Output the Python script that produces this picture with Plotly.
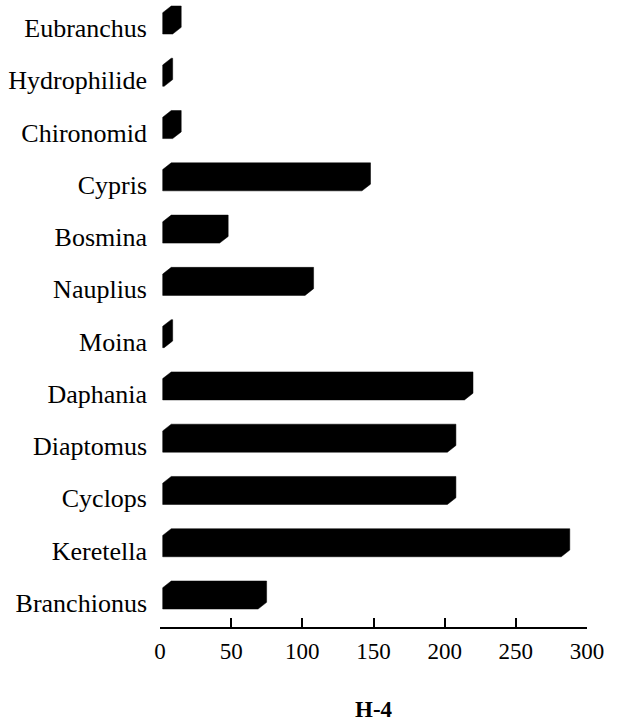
import plotly.graph_objects as go

# Data (bottom to top as drawn)
categories = ["Branchionus", "Keretella", "Cyclops", "Diaptomus", "Daphania", "Moina",
              "Nauplius", "Bosmina", "Cypris", "Chironomid", "Hydrophilide", "Eubranchus"]
values = [67, 280, 200, 200, 212, 1, 100, 40, 140, 7, 1, 7]
x_ticks = [0, 50, 100, 150, 200, 250, 300]
title_text = "H-4"

# 3D bar style constants (data units)
X0 = 1.9      # small gap from axis
DX = 6.0      # depth offset in x
DY = 0.128    # depth offset in y
HALF = 0.204  # half height of front face
YSHIFT = -0.064

xs, ys = [], []
for k, v in enumerate(values):
    yc = k + YSHIFT
    x1 = X0 + v
    pts = [(X0, yc - HALF), (X0, yc + HALF), (X0 + DX, yc + HALF + DY),
           (x1 + DX, yc + HALF + DY), (x1 + DX, yc - HALF + DY), (x1, yc - HALF),
           (X0, yc - HALF)]
    xs += [p[0] for p in pts] + [None]
    ys += [p[1] for p in pts] + [None]

fig = go.Figure()
fig.add_trace(go.Scatter(x=xs, y=ys, mode="lines", fill="toself",
                         fillcolor="black", line=dict(color="black", width=0.5),
                         hoverinfo="skip", showlegend=False, cliponaxis=False))

font_family = "Liberation Serif, Times New Roman, serif"
fig.update_layout(
    width=617, height=724,
    margin=dict(l=160, r=30, t=0, b=97),
    paper_bgcolor="white", plot_bgcolor="white",
    showlegend=False,
    font=dict(family=font_family, color="black"),
    xaxis=dict(range=[0, 300], tickvals=x_ticks, ticktext=[str(t) for t in x_ticks],
               showgrid=False, zeroline=False, showline=True, linecolor="black",
               linewidth=2, ticks="inside", ticklen=9, tickwidth=2, tickcolor="black",
               tickfont=dict(size=23, family=font_family, color="black"),
               ticklabelstandoff=2),
    yaxis=dict(range=[-0.612, 11.383], tickvals=[k - 0.15 for k in range(len(categories))],
               ticktext=categories, showgrid=False, zeroline=False, showline=False,
               ticks="", tickfont=dict(size=26, family=font_family, color="black"),
               ticklabelstandoff=12),
    annotations=[dict(text="<b>" + title_text + "</b>", xref="paper", yref="paper",
                      x=0.5, y=-0.132, xanchor="center", yanchor="middle",
                      showarrow=False, font=dict(size=23, family=font_family, color="black"))],
)

fig.write_html("out.html", config={"displayModeBar": False},
               post_script="document.body.style.margin='0';document.body.style.padding='0';")
